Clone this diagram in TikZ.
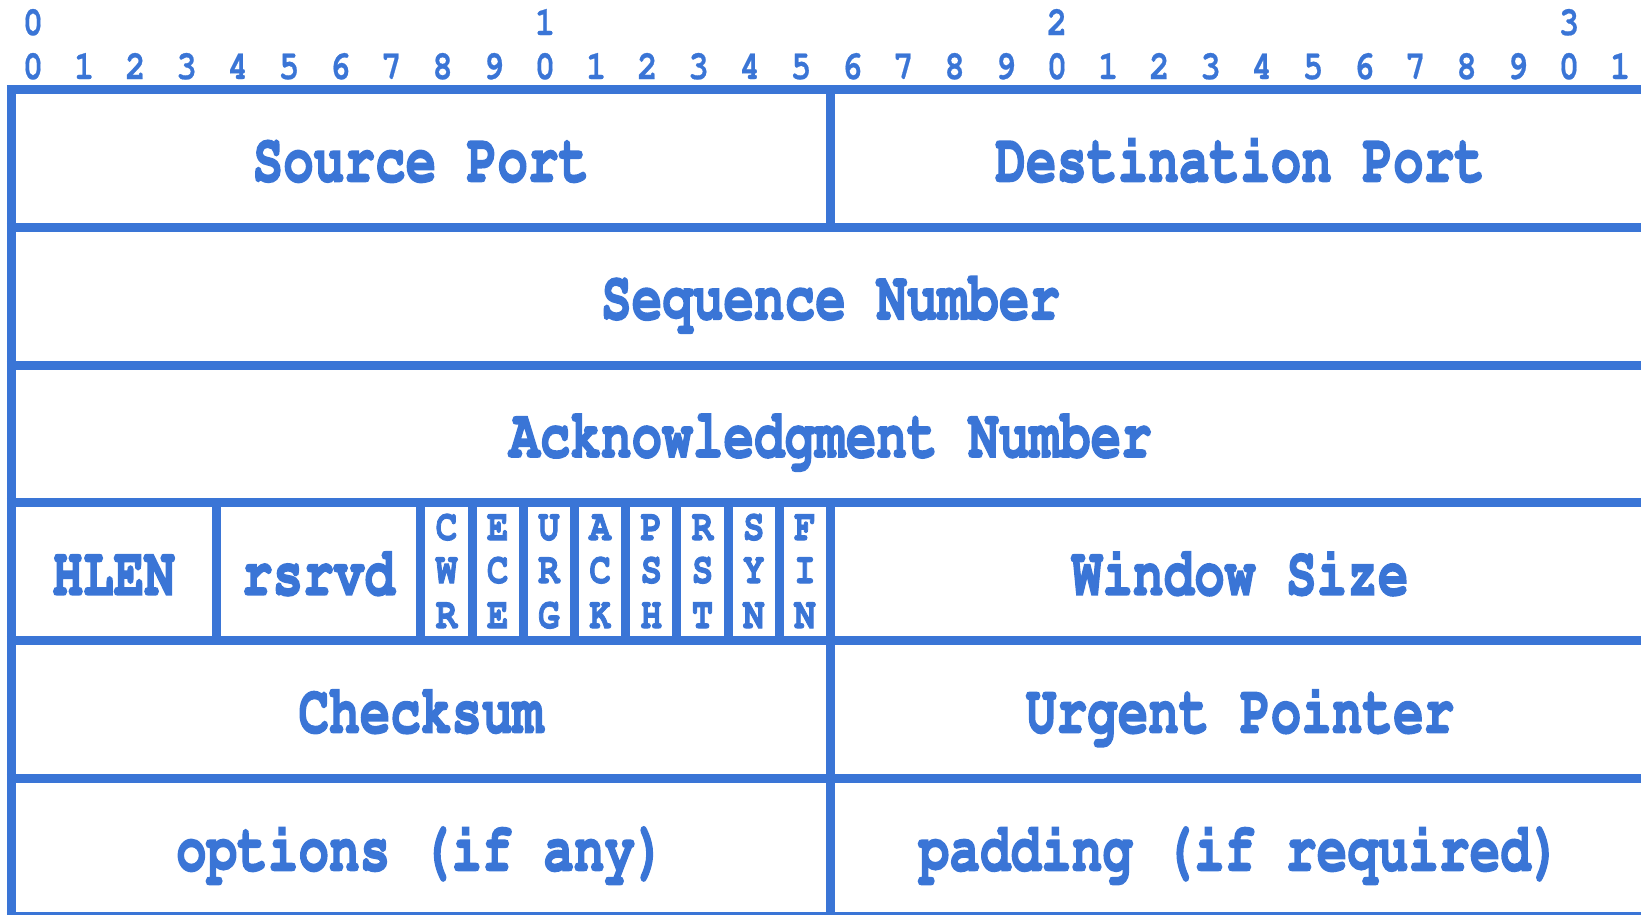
\documentclass[tikz,border=0pt]{standalone}
\usepackage[T1]{fontenc}
\usepackage{courier}
\usepackage{graphicx}

\definecolor{hdrblue}{RGB}{58,117,214}

% Courier faces, drawn slightly tall and heavy as in a screen capture
\newcommand{\fieldfont}{\ttfamily\bfseries\fontsize{51}{51}\selectfont}
\newcommand{\flagfont}{\ttfamily\bfseries\fontsize{36}{36}\selectfont}
\newcommand{\rulerfont}{\ttfamily\bfseries\fontsize{34}{34}\selectfont}
% fill and stroke the glyphs to thicken them
\newcommand{\heavy}[2]{\special{pdf:literal direct 2 Tr #1 w}#2\special{pdf:literal direct 0 Tr}}
\newcommand{\fieldtxt}[1]{\scalebox{1}[1.35]{\heavy{1.3}{#1}}}
\newcommand{\flagtxt}[1]{\scalebox{1}[1.22]{\heavy{0.8}{#1}}}
\newcommand{\rulertxt}[1]{\scalebox{1}[1.2]{\heavy{0.2}{#1}}}

\begin{document}
\begin{tikzpicture}[x=1pt, y=-1pt,
  gridline/.style={draw=hdrblue, line width=9pt},
  field/.style={anchor=base, inner sep=0pt, text=hdrblue, font=\fieldfont},
  flagletter/.style={anchor=base, inner sep=0pt, text=hdrblue, font=\flagfont},
  bitnum/.style={anchor=base, inner sep=0pt, text=hdrblue, font=\rulerfont}]

% page frame
\useasboundingbox (0,0) rectangle (1641,914);
\clip (0,0) rectangle (1641,914);

% left edge, bit width, top edge, row height
\def\L{11.3}
\def\B{51.2}
\def\T{89.5}
\def\H{137.8}

% ---- bit ruler ----
\foreach \t in {0,1,2,3} {
  \node[bitnum] (tens\t) at ({33+\t*10*\B},35) {\rulertxt{\t}};
}
\foreach \i in {0,...,31} {
  \pgfmathtruncatemacro{\d}{mod(\i,10)}
  \node[bitnum] (bit\i) at ({33+\i*\B},79) {\rulertxt{\d}};
}

% ---- horizontal row rules ----
\foreach \k in {0,...,6} {
  \draw[gridline] (6.8,{\T+\k*\H}) -- (1660,{\T+\k*\H});
}
% left border
\draw[gridline] (\L,\T) -- (\L,{\T+6*\H});

% ---- vertical field dividers ----
% half-word split in rows 0, 3, 4, 5
\draw[gridline] ({\L+16*\B},\T) -- ({\L+16*\B},{\T+\H});
\draw[gridline] ({\L+16*\B},{\T+3*\H}) -- ({\L+16*\B},{\T+6*\H});
% HLEN | rsrvd | flags
\foreach \b in {4,8,9,10,11,12,13,14,15} {
  \draw[gridline] ({\L+\b*\B},{\T+3*\H}) -- ({\L+\b*\B},{\T+4*\H});
}

% ---- field labels (baseline 23 below row centre) ----
\node[field] (srcport) at ({\L+8*\B},{\T+0.5*\H+23}) {\fieldtxt{Source Port}};
\node[field] (dstport) at ({\L+24*\B},{\T+0.5*\H+23}) {\fieldtxt{Destination Port}};
\node[field] (seqnum) at ({\L+16*\B},{\T+1.5*\H+23}) {\fieldtxt{Sequence Number}};
\node[field] (acknum) at ({\L+16*\B},{\T+2.5*\H+23}) {\fieldtxt{Acknowledgment Number}};
\node[field] (hlen) at ({\L+2*\B},{\T+3.5*\H+23}) {\fieldtxt{HLEN}};
\node[field] (rsrvd) at ({\L+6*\B},{\T+3.5*\H+23}) {\fieldtxt{rsrvd}};
\node[field] (window) at ({\L+24*\B},{\T+3.5*\H+23}) {\fieldtxt{Window Size}};
\node[field] (checksum) at ({\L+8*\B},{\T+4.5*\H+23}) {\fieldtxt{Checksum}};
\node[field] (urgent) at ({\L+24*\B},{\T+4.5*\H+23}) {\fieldtxt{Urgent Pointer}};
\node[field] (options) at ({\L+8*\B},{\T+5.5*\H+23}) {\fieldtxt{options (if any)}};
\node[field] (padding) at ({\L+24*\B},{\T+5.5*\H+23}) {\fieldtxt{padding (if required)}};

% ---- control flags, one letter per line ----
\foreach \fa/\fb/\fc [count=\k from 0] in {C/W/R,E/C/E,U/R/G,A/C/K,P/S/H,R/S/T,S/Y/N,F/I/N} {
  \node[flagletter] (flag\k a) at ({\L+(8.5+\k)*\B},540) {\flagtxt{\fa}};
  \node[flagletter] (flag\k b) at ({\L+(8.5+\k)*\B},583) {\flagtxt{\fb}};
  \node[flagletter] (flag\k c) at ({\L+(8.5+\k)*\B},628) {\flagtxt{\fc}};
}
\end{tikzpicture}
\end{document}
